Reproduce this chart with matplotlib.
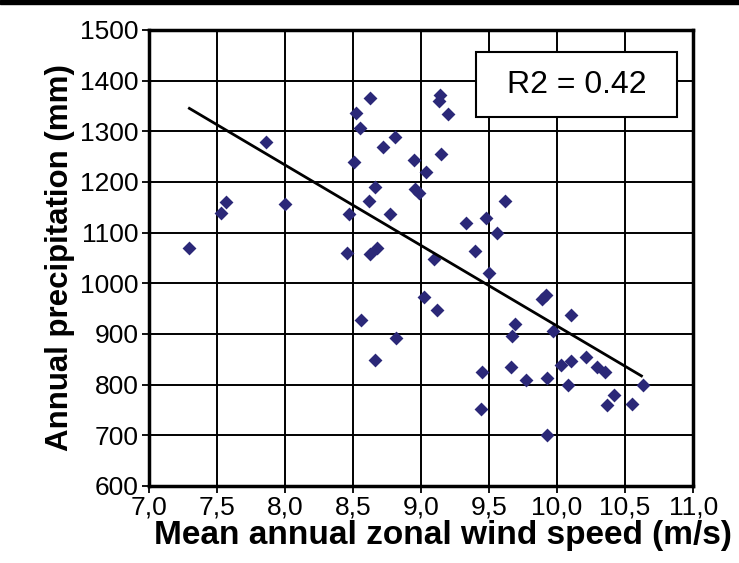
import matplotlib.pyplot as plt
from matplotlib.patches import Rectangle

plt.rcParams['font.family'] = ['Liberation Sans', 'DejaVu Sans']

# Datos
wind = [8.63, 8.52, 8.55, 7.86, 8.81, 8.72, 8.51, 8.95, 9.04, 9.15,
        8.66, 8.96, 8.99, 8.62, 7.57, 7.53, 8.00, 8.47, 8.77, 7.30,
        9.14, 9.13, 9.20, 9.62, 9.48, 9.33, 9.56, 9.40, 8.46, 8.63,
        8.68, 9.10, 9.02, 9.12, 8.56, 8.82, 8.66, 9.50, 9.89, 9.92,
        10.10, 9.69, 9.67, 9.97, 10.21, 10.03, 10.10, 10.29, 10.35, 9.45,
        9.66, 9.77, 9.93, 10.08, 10.63, 10.42, 10.37, 10.55, 9.44, 9.93]
precip = [1365, 1335, 1306, 1278, 1288, 1269, 1239, 1243, 1220, 1254,
          1189, 1185, 1178, 1162, 1161, 1139, 1157, 1136, 1136, 1070,
          1372, 1360, 1334, 1162, 1129, 1118, 1100, 1063, 1060, 1057,
          1069, 1047, 973, 947, 927, 891, 848, 1021, 968, 976,
          938, 920, 895, 905, 854, 839, 846, 835, 824, 824,
          835, 808, 813, 800, 800, 780, 759, 762, 752, 700]

trend_x = [7.30, 10.62]
trend_y = [1345, 817]

x_ticks = [7.0, 7.5, 8.0, 8.5, 9.0, 9.5, 10.0, 10.5, 11.0]
x_labels = ['7,0', '7,5', '8,0', '8,5', '9,0', '9,5', '10,0', '10,5', '11,0']
y_ticks = [600, 700, 800, 900, 1000, 1100, 1200, 1300, 1400, 1500]

fig = plt.figure(figsize=(7.39, 5.63), dpi=100)
ax = fig.add_axes([0.201, 0.137, 0.737, 0.810])

# Barra negra superior
fig.patches.append(Rectangle((0, 0.993), 1, 0.007, transform=fig.transFigure,
                             color='black', zorder=10))

ax.scatter(wind, precip, marker='D', s=50, color='#2b2878', zorder=3, linewidths=0)
ax.plot(trend_x, trend_y, color='black', lw=2, zorder=4)

ax.set_xlim(7.0, 11.0)
ax.set_ylim(600, 1500)
ax.set_xticks(x_ticks)
ax.set_xticklabels(x_labels)
ax.set_yticks(y_ticks)
ax.grid(True, color='black', lw=1.4)
ax.set_axisbelow(True)
for s in ax.spines.values():
    s.set_linewidth(2.5)
ax.tick_params(labelsize=19, length=5, width=1.3, pad=2)

ax.set_xlabel('Mean annual zonal wind speed (m/s)', fontsize=24, fontweight='bold')
ax.xaxis.set_label_coords(0.54, -0.075)
ax.set_ylabel('Annual precipitation (mm)', fontsize=22.5, fontweight='bold',
              labelpad=4)

# Caja del R2
ax.add_patch(Rectangle((0.601, 0.809), 0.370, 0.143, transform=ax.transAxes,
                       fc='white', ec='black', lw=1.5, zorder=5))
ax.text(0.786, 0.879, 'R2 = 0.42', transform=ax.transAxes, fontsize=23,
        ha='center', va='center', zorder=6)

plt.savefig('out.png', dpi=100)
